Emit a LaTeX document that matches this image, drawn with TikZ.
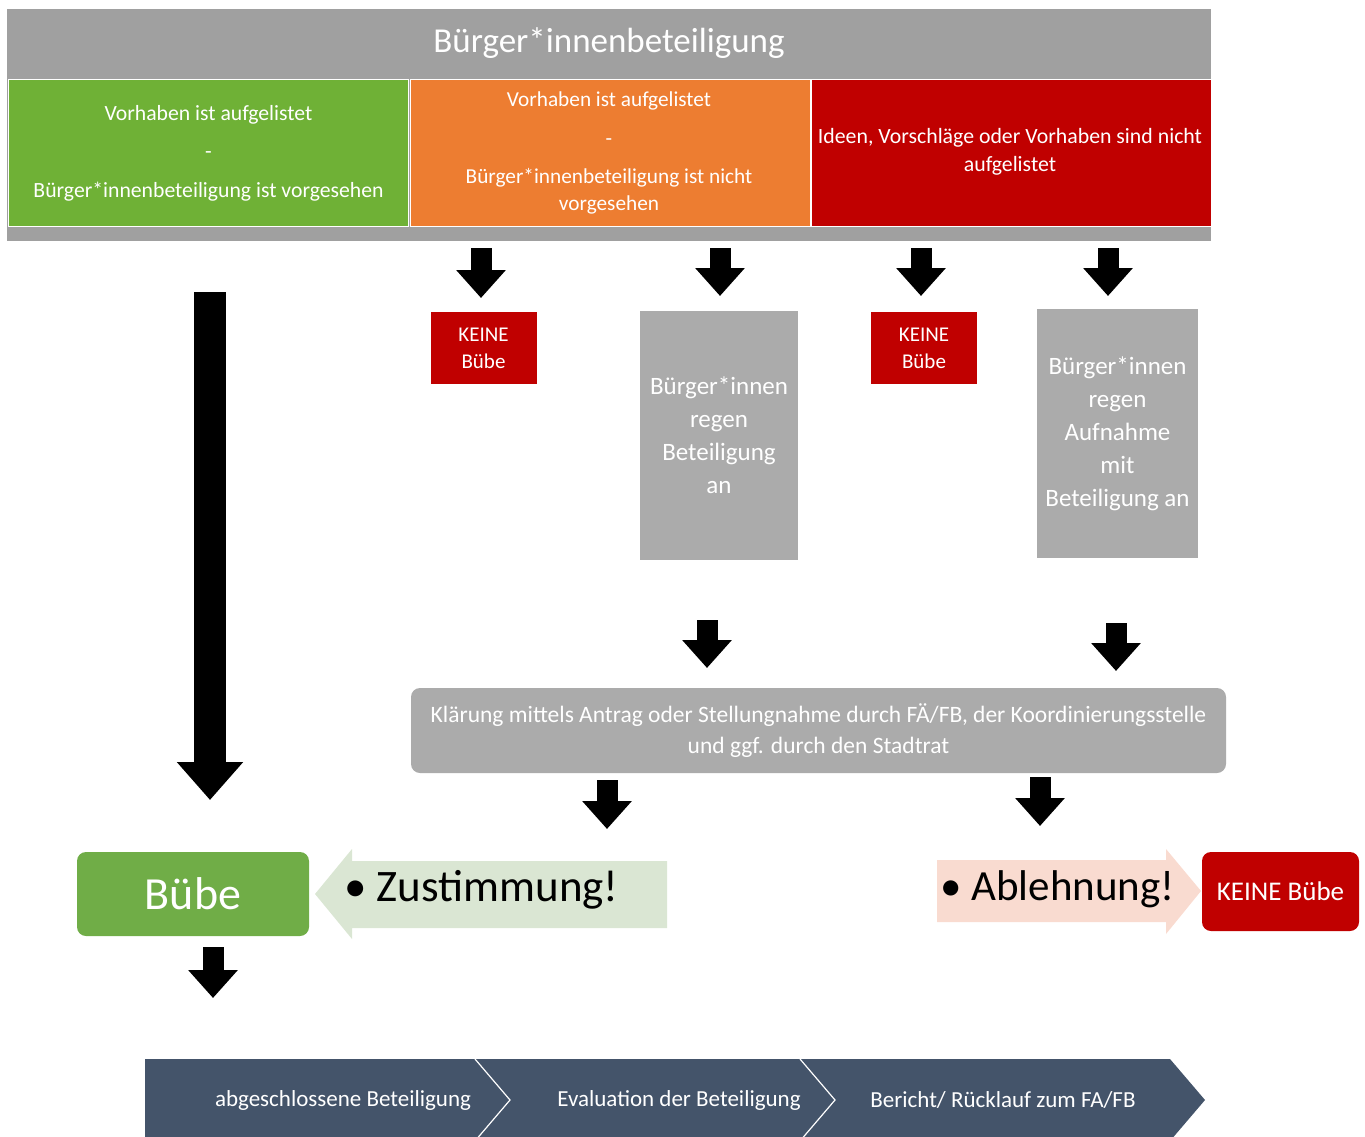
\documentclass[tikz,border=0pt]{standalone}
\usepackage{fontspec}
\setmainfont{Carlito}
\usetikzlibrary{arrows.meta}
\definecolor{hdrgray}{HTML}{A0A0A0}
\definecolor{boxgray}{HTML}{ABABAB}
\definecolor{ogreen}{HTML}{6FB136}
\definecolor{bgreen}{HTML}{70AD47}
\definecolor{oorange}{HTML}{ED7D31}
\definecolor{ored}{HTML}{C00000}
\definecolor{lgreen}{HTML}{DAE6D3}
\definecolor{lred}{HTML}{F9DBD0}
\definecolor{slate}{HTML}{44546A}
\tikzset{
  colbox/.style={draw=white, line width=1pt, inner sep=0pt, text=white, align=center},
  graybox/.style={fill=boxgray, inner sep=0pt, text=white, align=center},
  redbox/.style={fill=ored, inner sep=0pt, text=white, align=center},
  blockarrow/.style={line width=21pt, -{Triangle[width=48pt,length=28pt]}},
  bigarrow/.style={line width=32pt, -{Triangle[width=64pt,length=38pt]}},
  chevtext/.style={text=white, font=\fontsize{23}{27}\selectfont},
}
\begin{document}
\begin{tikzpicture}[x=1pt,y=-1pt]
\useasboundingbox (0,0) rectangle (1365,1137);
% header
\fill[hdrgray] (7,9) rectangle (1211,241);
\node[text=white, font=\fontsize{35}{40}\selectfont] (title) at (609,43) {Bürger*innenbeteiligung};
\node[colbox, fill=ogreen, minimum width=400pt, minimum height=147pt] (green) at (208.5,153) {};
\node[colbox, fill=oorange, minimum width=400pt, minimum height=147pt] (orange) at (610,153) {};
\node[colbox, fill=ored, minimum width=400pt, minimum height=147pt] (red) at (1011,153) {};
\node[text=white, align=center, font=\fontsize{21.7}{27}\selectfont] (greent) at (208.5,153) {Vorhaben ist aufgelistet\\[11.5pt]-\\[11.5pt]Bürger*innenbeteiligung ist vorgesehen};
\node[text=white, align=center, font=\fontsize{21.3}{27}\selectfont] (oranget) at (609,153) {Vorhaben ist aufgelistet\\[12pt]-\\[11pt]Bürger*innenbeteiligung ist nicht\\vorgesehen};
\node[text=white, align=center, font=\fontsize{21.8}{28}\selectfont] (redt) at (1010,152) {Ideen, Vorschläge oder Vorhaben sind nicht\\aufgelistet};

% second row boxes
\node[redbox, minimum width=106pt, minimum height=72pt, font=\fontsize{21}{27}\selectfont] (keine1) at (483.5,348) {KEINE\\Bübe};
\node[redbox, minimum width=106pt, minimum height=72pt, font=\fontsize{21}{27}\selectfont] (keine2) at (924,348) {KEINE\\Bübe};
\node[graybox, minimum width=158pt, minimum height=249pt, font=\fontsize{25}{33}\selectfont] (regen1) at (719,435.5) {Bürger*innen\\regen\\Beteiligung\\an};
\node[graybox, minimum width=161pt, minimum height=249pt, font=\fontsize{25}{33}\selectfont] (regen2) at (1117.5,433.5) {Bürger*innen\\regen\\Aufnahme\\mit\\Beteiligung an};

% clarification
\node[graybox, rounded corners=9pt, minimum width=815pt, minimum height=85pt, font=\fontsize{23.5}{31}\selectfont] (klaer) at (818.5,730.5) {Klärung mittels Antrag oder Stellungnahme durch FÄ/FB, der Koordinierungsstelle\\und ggf. durch den Stadtrat};

% outcome row
\node[fill=bgreen, rounded corners=9pt, minimum width=232pt, minimum height=84pt, inner sep=0pt, text=white, font=\fontsize{46}{50}\selectfont] (buebe) at (193,894) {Bübe};
\fill[lgreen] (315,894) -- (352,849) -- (352,861) -- (667,861) -- (667,928) -- (352,928) -- (352,939) -- cycle;
\node[anchor=west, inner sep=0pt, font=\fontsize{45}{50}\selectfont] (zust) at (344,890) {\textbullet\ Zustimmung!};
\fill[lred] (937,860) -- (1166,860) -- (1166,849) -- (1201,891) -- (1166,934) -- (1166,922) -- (937,922) -- cycle;
\node[anchor=west, inner sep=0pt, font=\fontsize{43}{48}\selectfont] (ablehn) at (940,889) {\textbullet\ Ablehnung!};
\node[redbox, rounded corners=9pt, minimum width=157pt, minimum height=79pt, font=\fontsize{27}{30}\selectfont] (keine3) at (1280.5,891.5) {KEINE Bübe};

% arrows
\coordinate (a0s) at (210,292); \coordinate (a0e) at (210,800);
\coordinate (a1s) at (481,248); \coordinate (a1e) at (481,298);
\coordinate (a2s) at (720,248); \coordinate (a2e) at (720,296);
\coordinate (a3s) at (921,248); \coordinate (a3e) at (921,296);
\coordinate (a4s) at (1108,248); \coordinate (a4e) at (1108,296);
\coordinate (a5s) at (707,620); \coordinate (a5e) at (707,668);
\coordinate (a6s) at (1116,623); \coordinate (a6e) at (1116,671);
\coordinate (a7s) at (607,780); \coordinate (a7e) at (607,829);
\coordinate (a8s) at (1040,777); \coordinate (a8e) at (1040,826);
\coordinate (a9s) at (213,947); \coordinate (a9e) at (213,998);
\draw[bigarrow] (a0s) -- (a0e);
\foreach \i in {1,...,9} { \draw[blockarrow] (a\i s) -- (a\i e); }

% process chevrons
\fill[slate] (145,1059) -- (1170,1059) -- (1205,1100) -- (1170,1141) -- (145,1141) -- cycle;
\draw[white, line width=1.2pt] (475,1059) -- (510,1100) -- (475,1141);
\draw[white, line width=1.2pt] (800,1059) -- (835,1100) -- (800,1141);
\node[chevtext] (step1) at (343,1100) {abgeschlossene Beteiligung};
\node[chevtext] (step2) at (679,1100) {Evaluation der Beteiligung};
\node[chevtext] (step3) at (1003,1100) {Bericht/ Rücklauf zum FA/FB};
\end{tikzpicture}
\end{document}
